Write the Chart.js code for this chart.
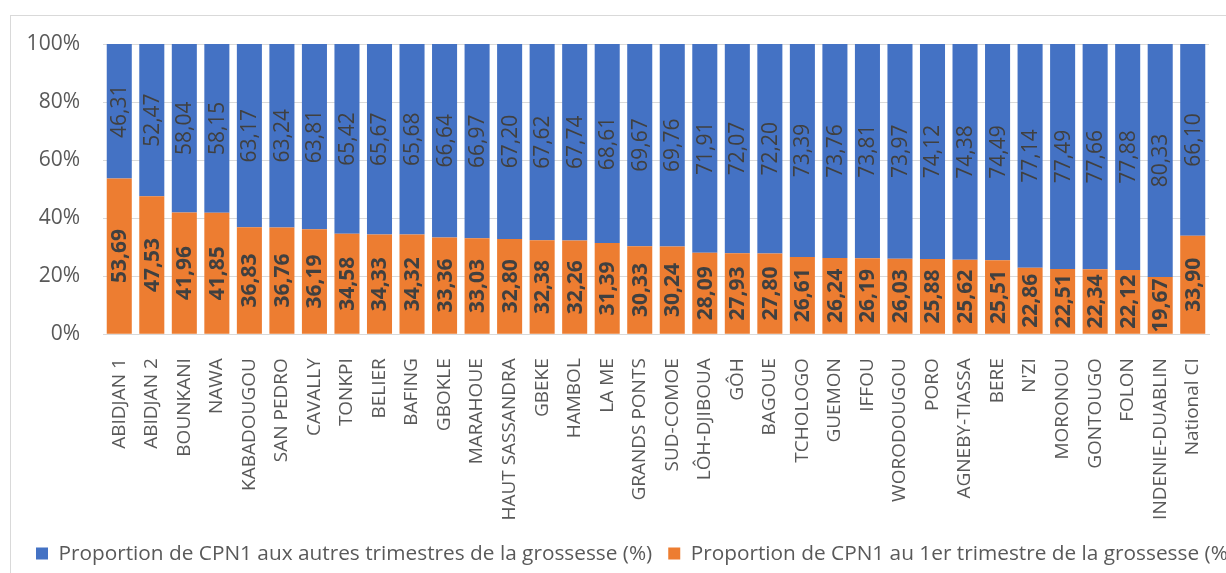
<!DOCTYPE html>
<html>
<head>
<meta charset="utf-8">
<script src="https://cdn.jsdelivr.net/npm/chart.js@4.4.1/dist/chart.umd.min.js"></script>
<style>
  html, body { margin: 0; padding: 0; background: #fff; overflow: hidden; }
  #frame { position: absolute; left: 10px; top: 15px; width: 1400px; height: 558px; border: 1px solid #d9d9d9; }
  #chartCpn { display: block; }
</style>
</head>
<body>
<div id="frame"><canvas id="chartCpn" width="1400" height="558"></canvas></div>
<script>
// Regions (in display order)
var regions = ['ABIDJAN 1', 'ABIDJAN 2', 'BOUNKANI', 'NAWA', 'KABADOUGOU', 'SAN PEDRO', 'CAVALLY', 'TONKPI',
  'BELIER', 'BAFING', 'GBOKLE', 'MARAHOUE', 'HAUT SASSANDRA', 'GBEKE', 'HAMBOL', 'LA ME', 'GRANDS PONTS',
  'SUD-COMOE', 'LÔH-DJIBOUA', 'GÔH', 'BAGOUE', 'TCHOLOGO', 'GUEMON', 'IFFOU', 'WORODOUGOU', 'PORO',
  'AGNEBY-TIASSA', 'BERE', "N'ZI", 'MORONOU', 'GONTOUGO', 'FOLON', 'INDENIE-DUABLIN', 'National CI'];

// CPN1 in 1st trimester (%)
var firstTrimester = [53.69, 47.53, 41.96, 41.85, 36.83, 36.76, 36.19, 34.58, 34.33, 34.32, 33.36, 33.03,
  32.80, 32.38, 32.26, 31.39, 30.33, 30.24, 28.09, 27.93, 27.80, 26.61, 26.24, 26.19, 26.03, 25.88, 25.62,
  25.51, 22.86, 22.51, 22.34, 22.12, 19.67, 33.90];

// CPN1 in other trimesters (%)
var otherTrimesters = [46.31, 52.47, 58.04, 58.15, 63.17, 63.24, 63.81, 65.42, 65.67, 65.68, 66.64, 66.97,
  67.20, 67.62, 67.74, 68.61, 69.67, 69.76, 71.91, 72.07, 72.20, 73.39, 73.76, 73.81, 73.97, 74.12, 74.38,
  74.49, 77.14, 77.49, 77.66, 77.88, 80.33, 66.10];

var yTicks = [0, 20, 40, 60, 80, 100];

var fontFamily = "'Open Sans', 'Noto Sans', sans-serif";
var textColor = '#595959';

// Draws the values inside each bar segment, rotated vertically
var barLabels = {
  id: 'barLabels',
  afterDatasetsDraw: function (chart) {
    var ctx = chart.ctx;
    chart.data.datasets.forEach(function (ds, i) {
      var meta = chart.getDatasetMeta(i);
      meta.data.forEach(function (bar, j) {
        var p = bar.getProps(['x', 'y', 'base'], true);
        var cy = (p.y + p.base) / 2;
        ctx.save();
        ctx.translate(p.x, cy);
        ctx.rotate(-Math.PI / 2);
        ctx.font = (ds.labelBold ? 'bold ' : '') + '21px ' + fontFamily;
        ctx.fillStyle = '#404040';
        ctx.textAlign = 'center';
        ctx.textBaseline = 'middle';
        ctx.fillText(ds.data[j].toFixed(2).replace('.', ','), 0, 1);
        ctx.restore();
      });
    });
  }
};

var ctx = document.getElementById('chartCpn');
new Chart(ctx, {
  type: 'bar',
  data: {
    labels: regions,
    datasets: [
      {
        label: 'Proportion de CPN1 au 1er trimestre de la grossesse (%)',
        data: firstTrimester,
        backgroundColor: '#ED7D31',
        labelBold: true,
        barPercentage: 0.77,
        categoryPercentage: 1
      },
      {
        label: 'Proportion de CPN1 aux autres trimestres de la grossesse (%)',
        data: otherTrimesters,
        backgroundColor: '#4472C4',
        labelBold: false,
        barPercentage: 0.77,
        categoryPercentage: 1
      }
    ]
  },
  options: {
    responsive: false,
    animation: false,
    layout: { padding: { top: 28, right: 0, left: 9, bottom: 0 } },
    scales: {
      x: {
        stacked: true,
        grid: { display: false },
        border: { color: '#d9d9d9' },
        afterFit: function (scale) { scale.height = 193; },
        ticks: {
          autoSkip: false,
          minRotation: 90,
          maxRotation: 90,
          color: textColor,
          font: { family: fontFamily, size: 19 },
          padding: 16
        }
      },
      y: {
        stacked: true,
        min: 0,
        max: 100,
        afterBuildTicks: function (scale) {
          scale.ticks = yTicks.map(function (v) { return { value: v }; });
        },
        afterFit: function (scale) { scale.width = 83; },
        // invisible tick marks push the labels left without adding top padding
        grid: { color: '#d9d9d9', drawTicks: true, tickLength: 23, tickColor: 'rgba(0,0,0,0)' },
        border: { display: false },
        ticks: {
          color: textColor,
          font: { family: fontFamily, size: 21 },
          padding: 0,
          callback: function (v) { return v + '%'; }
        }
      },
      // empty spacer so the plot ends where the reference does, legend keeps full width
      spacer: {
        type: 'linear',
        position: 'right',
        grid: { display: false },
        border: { display: false },
        ticks: { display: false },
        afterFit: function (scale) { scale.width = 202; }
      }
    },
    plugins: {
      legend: {
        position: 'bottom',
        align: 'start',
        reverse: true,
        labels: {
          color: textColor,
          font: { family: fontFamily, size: 20.8 },
          boxWidth: 12,
          boxHeight: 12,
          padding: 16
        }
      },
      tooltip: { enabled: false }
    }
  },
  plugins: [barLabels]
});
</script>
</body>
</html>
